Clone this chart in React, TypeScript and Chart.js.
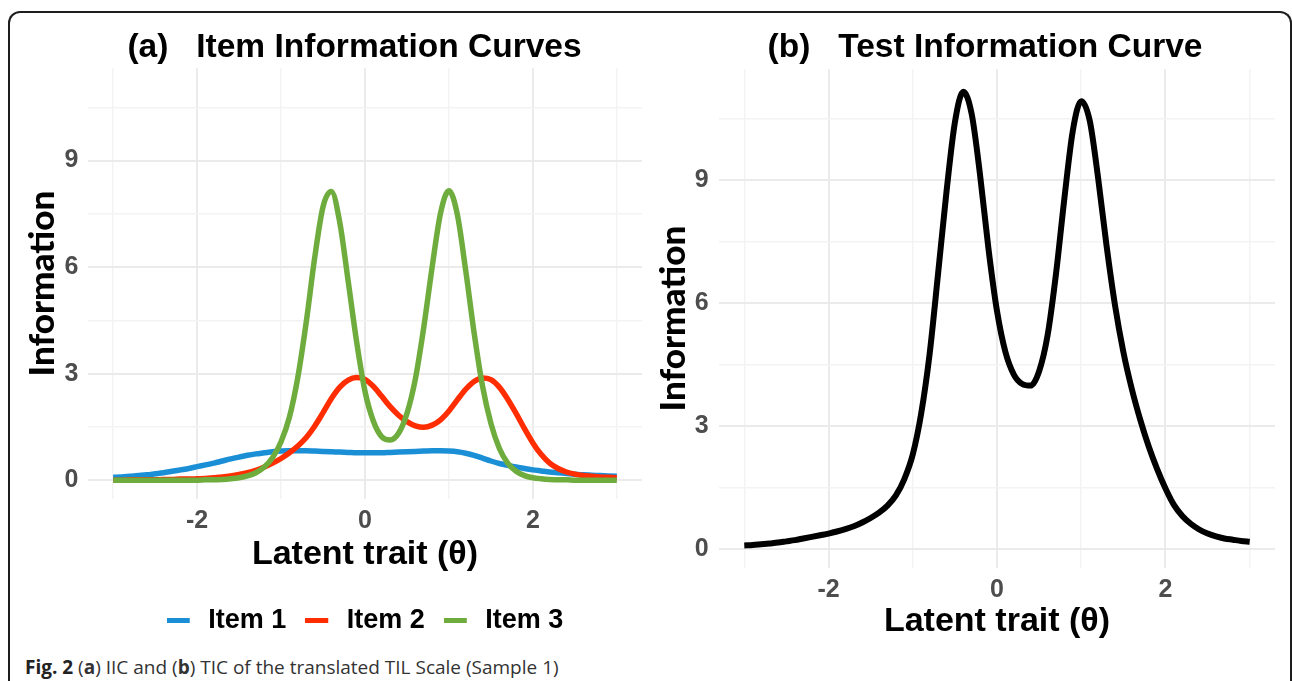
import React, { useEffect, useRef } from 'react';
import { Chart, registerables } from 'chart.js';

Chart.register(...registerables);

// ---------------- data ----------------
const theta = [
  -3.0, -2.9, -2.8, -2.7, -2.6, -2.5, -2.4, -2.3, -2.2, -2.1,
  -2.0, -1.9, -1.8, -1.7, -1.6, -1.5, -1.4, -1.3, -1.2, -1.1,
  -1.0, -0.9, -0.8, -0.7, -0.6, -0.5, -0.4, -0.3, -0.2, -0.1,
  0.0, 0.1, 0.2, 0.3, 0.4, 0.5, 0.6, 0.7, 0.8, 0.9,
  1.0, 1.1, 1.2, 1.3, 1.4, 1.5, 1.6, 1.7, 1.8, 1.9,
  2.0, 2.1, 2.2, 2.3, 2.4, 2.5, 2.6, 2.7, 2.8, 2.9, 3.0,
];

const item1 = [
  0.08, 0.09, 0.11, 0.13, 0.15, 0.18, 0.21, 0.25, 0.29, 0.33,
  0.38, 0.43, 0.48, 0.54, 0.6, 0.65, 0.7, 0.74, 0.77, 0.8,
  0.82, 0.83, 0.83, 0.83, 0.82, 0.81, 0.8, 0.79, 0.78, 0.77,
  0.77, 0.77, 0.77, 0.78, 0.79, 0.8, 0.81, 0.82, 0.83, 0.83,
  0.82, 0.8, 0.76, 0.7, 0.62, 0.54, 0.47, 0.42, 0.37, 0.33,
  0.29, 0.26, 0.23, 0.21, 0.19, 0.17, 0.15, 0.14, 0.13, 0.12, 0.11,
];

const item2 = [
  0.0, 0.0, 0.01, 0.01, 0.01, 0.01, 0.02, 0.02, 0.03, 0.03,
  0.04, 0.05, 0.07, 0.09, 0.12, 0.16, 0.21, 0.28, 0.37, 0.48,
  0.61, 0.77, 0.96, 1.2, 1.52, 1.9, 2.3, 2.62, 2.82, 2.89,
  2.84, 2.64, 2.36, 2.07, 1.83, 1.65, 1.53, 1.49, 1.55, 1.7,
  1.95, 2.26, 2.56, 2.78, 2.88, 2.83, 2.62, 2.28, 1.88, 1.45,
  1.05, 0.72, 0.48, 0.33, 0.23, 0.17, 0.13, 0.11, 0.09, 0.08, 0.07,
];

const item3 = [
  0, 0, 0, 0, 0, 0, 0, 0, 0, 0,
  0, 0.01, 0.01, 0.02, 0.04, 0.07, 0.12, 0.21, 0.37, 0.64,
  1.08, 1.78, 2.9, 4.45, 6.25, 7.7, 8.13, 7.25, 5.6, 3.9,
  2.5, 1.66, 1.22, 1.13, 1.32, 1.88, 2.85, 4.3, 6.0, 7.52,
  8.15, 7.48, 5.9, 4.15, 2.65, 1.6, 0.9, 0.48, 0.25, 0.13,
  0.07, 0.04, 0.02, 0.01, 0.01, 0, 0, 0, 0, 0, 0,
];

const testInfo = [
  0.08, 0.09, 0.11, 0.13, 0.15, 0.18, 0.21, 0.25, 0.29, 0.33,
  0.37, 0.42, 0.48, 0.55, 0.64, 0.75, 0.88, 1.05, 1.3, 1.7,
  2.3, 3.3, 4.75, 6.7, 8.7, 10.4, 11.15, 10.6, 9.1, 7.3,
  5.8, 4.8, 4.25, 4.02, 3.98, 4.33, 5.2, 6.7, 8.55, 10.2,
  10.92, 10.45, 9.05, 7.4, 5.95, 4.8, 3.9, 3.15, 2.5, 1.95,
  1.47, 1.07, 0.8, 0.61, 0.47, 0.37, 0.3, 0.25, 0.22, 0.19, 0.17,
];

const itemNames = ['Item 1', 'Item 2', 'Item 3'];
const itemColors = ['#1a8fd6', '#ff2d00', '#6fac3e'];

const xGridValues = [-3, -2, -1, 0, 1, 2, 3];
const xLabelValues = [-2, 0, 2];
const yGridValues = [0, 1.5, 3, 4.5, 6, 7.5, 9, 10.5];
const yLabelValues = [0, 3, 6, 9];

const titleA = '(a)   Item Information Curves';
const titleB = '(b)   Test Information Curve';
const xTitle = 'Latent trait (θ)';
const yTitle = 'Information';

// ---------------- styles ----------------
const FONT = '"Liberation Sans", Arial, Helvetica, sans-serif';
const YFONT = 'Lato, "Noto Sans", sans-serif';
const MAJOR = '#ebebeb';
const MINOR = '#f3f3f3';

function makeSwatch(color: string) {
  const c = document.createElement('canvas');
  c.width = 28;
  c.height = 5;
  const g = c.getContext('2d')!;
  g.fillStyle = color;
  g.fillRect(0, 0, 23, 5);
  return c;
}

function xScale(tickPad: number, height: number, titlePadBottom: number) {
  return {
    type: 'linear',
    min: -3.3,
    max: 3.3,
    afterBuildTicks: (s: any) => {
      s.ticks = xGridValues.map((v) => ({ value: v }));
    },
    afterFit: (s: any) => {
      s.height = height;
    },
    grid: {
      drawTicks: false,
      color: (c: any) => (xLabelValues.includes(c.tick && c.tick.value) ? MAJOR : MINOR),
      lineWidth: (c: any) => (xLabelValues.includes(c.tick && c.tick.value) ? 2 : 1.5),
    },
    border: { display: false },
    ticks: {
      autoSkip: false,
      maxRotation: 0,
      padding: tickPad,
      color: '#4d4d4d',
      font: { family: FONT, size: 25, weight: 'bold' },
      callback: (v: any) => (xLabelValues.includes(v) ? String(v) : ''),
    },
    title: {
      display: true,
      text: xTitle,
      color: '#000',
      font: { family: FONT, size: 34, weight: 'bold', lineHeight: 1.2 },
      padding: { top: 0, bottom: titlePadBottom },
    },
  };
}

function yScale(min: number, max: number, width: number, tickPad: number, titlePadTop: number) {
  return {
    type: 'linear',
    position: 'left',
    min,
    max,
    afterBuildTicks: (s: any) => {
      s.ticks = yGridValues.map((v) => ({ value: v }));
    },
    afterFit: (s: any) => {
      s.width = width;
    },
    grid: {
      drawTicks: false,
      color: (c: any) => (yLabelValues.includes(c.tick && c.tick.value) ? MAJOR : MINOR),
      lineWidth: (c: any) => (yLabelValues.includes(c.tick && c.tick.value) ? 2 : 1.5),
    },
    border: { display: false },
    ticks: {
      autoSkip: false,
      padding: tickPad,
      color: '#4d4d4d',
      font: { family: FONT, size: 25, weight: 'bold' },
      callback: (v: any) => (yLabelValues.includes(v) ? String(v) : ''),
    },
    title: {
      display: true,
      text: yTitle,
      color: '#000',
      font: { family: YFONT, size: 35, weight: 900, lineHeight: 1.2 },
      padding: { top: titlePadTop, bottom: 0 },
    },
  };
}

function spacerScale(width: number) {
  return {
    type: 'linear',
    position: 'right',
    display: true,
    grid: { display: false },
    border: { display: false },
    ticks: { display: false },
    afterFit: (s: any) => {
      s.width = width;
    },
  };
}

function titleOpts(text: string, padTop: number, padBottom: number) {
  return {
    display: true,
    text,
    color: '#000',
    fullSize: true,
    font: { family: FONT, size: 33.5, weight: 'bold', lineHeight: 1.2 },
    padding: { top: padTop, bottom: padBottom },
  };
}

export default function App() {
  const refA = useRef<HTMLCanvasElement>(null);
  const refB = useRef<HTMLCanvasElement>(null);

  useEffect(() => {
    const series = [item1, item2, item3];
    const chartA = new Chart(refA.current as HTMLCanvasElement, {
      type: 'line',
      data: {
        datasets: series.map((vals, k) => ({
          label: itemNames[k],
          data: theta.map((t, i) => ({ x: t, y: vals[i] })),
          borderColor: itemColors[k],
          backgroundColor: itemColors[k],
          borderWidth: 5.5,
          pointRadius: 0,
          pointHoverRadius: 0,
          pointStyle: makeSwatch(itemColors[k]) as any,
          cubicInterpolationMode: 'monotone',
          fill: false,
          order: series.length - k,
        })),
      },
      options: {
        responsive: false,
        animation: false,
        events: [],
        layout: { padding: 0 },
        scales: {
          x: xScale(7, 89, 12.6),
          y: yScale(-0.53, 11.6, 80, 9.5, 14),
          y2: spacerScale(59),
        } as any,
        plugins: {
          title: titleOpts(titleA, 28, 0),
          legend: {
            display: true,
            position: 'bottom',
            fullSize: false,
            labels: {
              usePointStyle: true,
              pointStyleWidth: 28,
              padding: 19,
              color: '#000',
              font: { family: FONT, size: 27, weight: 'bold' },
              sort: (a: any, b: any) => a.datasetIndex - b.datasetIndex,
            },
          },
          tooltip: { enabled: false },
        } as any,
      },
    } as any);

    const chartB = new Chart(refB.current as HTMLCanvasElement, {
      type: 'line',
      data: {
        datasets: [
          {
            label: 'Test information',
            data: theta.map((t, i) => ({ x: t, y: testInfo[i] })),
            borderColor: '#000',
            backgroundColor: '#000',
            borderWidth: 6,
            pointRadius: 0,
            pointHoverRadius: 0,
            cubicInterpolationMode: 'monotone',
            fill: false,
          },
        ],
      },
      options: {
        responsive: false,
        animation: false,
        events: [],
        layout: { padding: 0 },
        scales: {
          x: xScale(7, 80, 5.6),
          y: yScale(-0.47, 11.7, 69, 10.4, 2.5),
          y2: spacerScale(45),
        } as any,
        plugins: {
          title: titleOpts(titleB, 28, 1),
          legend: { display: false },
          tooltip: { enabled: false },
        } as any,
      },
    } as any);

    return () => {
      chartA.destroy();
      chartB.destroy();
    };
  }, []);

  return (
    <div
      style={{
        position: 'fixed',
        left: 0,
        top: 0,
        width: 1292,
        height: 681,
        background: '#fff',
        overflow: 'hidden',
      }}
    >
      <div
        style={{
          position: 'absolute',
          left: 8,
          top: 11,
          width: 1280,
          height: 720,
          border: '2px solid #1e1e1e',
          borderBottom: 'none',
          borderRadius: '12px 12px 0 0',
          boxSizing: 'content-box',
        }}
      />
      <canvas
        ref={refA}
        width={693}
        height={644}
        style={{ position: 'absolute', left: 8, top: 0, width: 693, height: 644 }}
      />
      <canvas
        ref={refB}
        width={670}
        height={648}
        style={{ position: 'absolute', left: 650, top: 0, width: 670, height: 648 }}
      />
      <div
        style={{
          position: 'absolute',
          left: 25,
          top: 655,
          fontFamily: '"Open Sans", "Noto Sans", sans-serif',
          fontSize: 19,
          lineHeight: '24px',
          color: '#333',
          whiteSpace: 'nowrap',
        }}
      >
        <b style={{ color: '#222' }}>Fig. 2</b> (<b>a</b>) IIC and (<b>b</b>) TIC of the translated TIL Scale (Sample 1)
      </div>
    </div>
  );
}
